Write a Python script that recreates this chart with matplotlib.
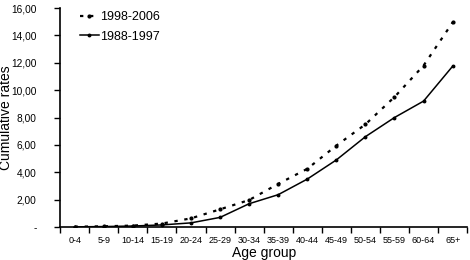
import matplotlib.pyplot as plt
from matplotlib.ticker import FuncFormatter, FixedLocator

plt.rcParams['font.family'] = ['Liberation Sans', 'DejaVu Sans']

ages = ['0-4', '5-9', '10-14', '15-19', '20-24', '25-29', '30-34', '35-39',
        '40-44', '45-49', '50-54', '55-59', '60-64', '65+']
rates_9806 = [0.02, 0.05, 0.10, 0.25, 0.63, 1.29, 1.97, 3.15, 4.25, 5.95,
              7.5, 9.5, 11.8, 14.95]
rates_8897 = [0.01, 0.03, 0.07, 0.15, 0.30, 0.70, 1.70, 2.36, 3.5, 4.9,
              6.6, 8.0, 9.2, 11.75]

x = list(range(len(ages)))

fig = plt.figure(figsize=(4.7, 2.6), dpi=100)
ax = fig.add_axes([0.128, 0.127, 0.866, 0.842])
ax.plot(x, rates_9806, color='black', linestyle=(0, (1.5, 3)), linewidth=1.6,
        marker='o', markersize=2, label='1998-2006')
ax.plot(x, rates_8897, color='black', linestyle='-', linewidth=1.1,
        marker='o', markersize=1.8, label='1988-1997')

ax.set_xlim(-0.5, len(ages) - 0.5)
ax.set_ylim(0, 16)
ax.set_xticks(x)
ax.set_xticklabels(ages, fontsize=6.5)
ax.tick_params(axis='x', which='major', length=0, pad=6.5)
ax.xaxis.set_minor_locator(FixedLocator([i + 0.5 for i in range(-1, len(ages))]))
ax.tick_params(axis='x', which='minor', length=4, width=1)
ax.set_yticks(range(0, 17, 2))
ax.yaxis.set_major_formatter(FuncFormatter(
    lambda v, p: '-' if v == 0 else ('%.2f' % v).replace('.', ',')))
ax.tick_params(axis='y', labelsize=7.3, length=4, width=1, pad=13)

for s in ['top', 'right']:
    ax.spines[s].set_visible(False)
ax.spines['left'].set_linewidth(1.2)
ax.spines['bottom'].set_linewidth(1.2)

ax.set_xlabel('Age group', fontsize=10)
ax.xaxis.set_label_coords(0.5, -0.087)
ax.set_ylabel('Cumulative rates', fontsize=10)
ax.yaxis.set_label_coords(-0.115, 0.5)
ax.legend(loc='upper left', bbox_to_anchor=(0.049, 0.985), frameon=False,
          fontsize=9, handlelength=1.5, handletextpad=0.1, labelspacing=0.6,
          borderpad=0, borderaxespad=0)

fig.savefig('out.png', dpi=100)
